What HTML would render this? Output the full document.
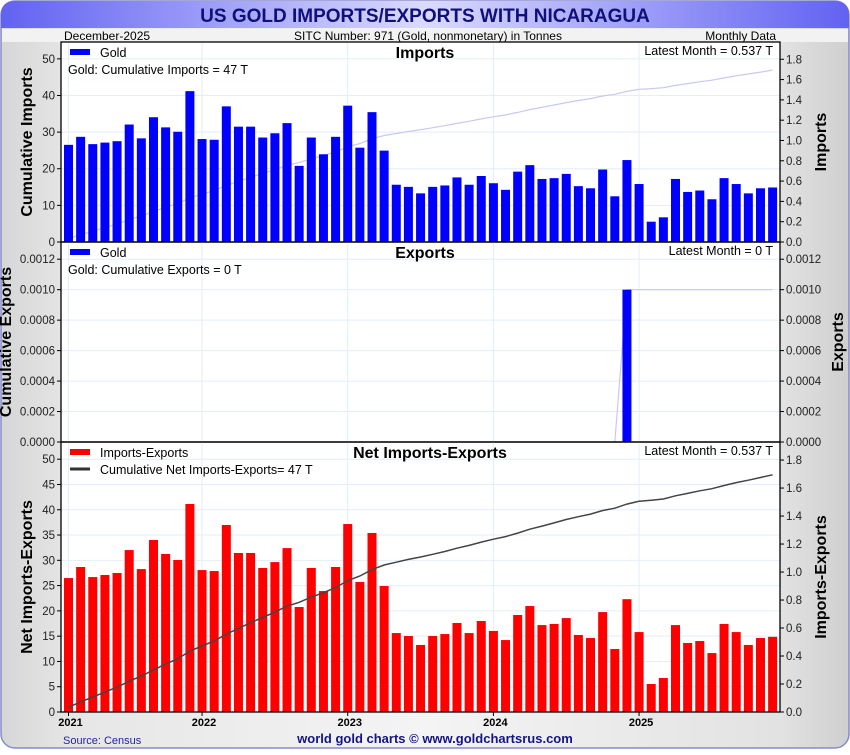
<!DOCTYPE html>
<html><head><meta charset="utf-8"><style>
body{margin:0;background:#fff;font-family:"Liberation Sans",sans-serif}
svg text{font-family:"Liberation Sans",sans-serif}
</style></head><body>
<svg id="c" width="850" height="750" viewBox="0 0 850 750" xmlns="http://www.w3.org/2000/svg">
<defs>
<linearGradient id="tg" x1="0" x2="1"><stop offset="0" stop-color="#6262f2"/><stop offset="0.5" stop-color="#dadaff"/><stop offset="1" stop-color="#6262f2"/></linearGradient>
<linearGradient id="sg" x1="0" x2="1"><stop offset="0" stop-color="#d6d6d6"/><stop offset="0.08" stop-color="#e6e6e6"/><stop offset="0.5" stop-color="#f4f4f4"/><stop offset="0.92" stop-color="#e2e2e2"/><stop offset="1" stop-color="#cfcfcf"/></linearGradient>
</defs>
<rect x="0" y="0" width="850" height="750" fill="#fff"/>
<rect x="1" y="1" width="848" height="747" rx="14" fill="url(#sg)" stroke="#8888cc" stroke-width="1.5"/>
<path d="M1,28 L1,15 Q1,1 15,1 L835,1 Q849,1 849,15 L849,28 Z" fill="url(#tg)"/>
<text x="425" y="22" text-anchor="middle" font-size="19" font-weight="bold" fill="#10107a">US GOLD IMPORTS/EXPORTS WITH NICARAGUA</text>
<rect x="2" y="29" width="846" height="13" fill="#f2f2f2"/>
<text x="64" y="40" font-size="12" fill="#000">December-2025</text>
<text x="428" y="40" text-anchor="middle" font-size="12" fill="#000">SITC Number: 971 (Gold, nonmonetary) in Tonnes</text>
<text x="776" y="40" text-anchor="end" font-size="12" fill="#000">Monthly Data</text>
<rect x="61" y="42" width="719" height="670" fill="#fff"/>
<g id="plot"></g>
<text x="63" y="744" font-size="11" fill="#2222aa">Source: Census</text>
<text x="435" y="743" text-anchor="middle" font-size="13" font-weight="bold" fill="#14148a">world gold charts © www.goldchartsrus.com</text>
</svg>
<script>
const imports = [0.957,1.036,0.964,0.979,0.993,1.157,1.021,1.229,1.129,1.086,1.486,1.014,1.007,1.336,1.136,1.136,1.029,1.071,1.171,0.75,1.029,0.864,1.036,1.343,0.929,1.279,0.9,0.564,0.543,0.479,0.543,0.557,0.636,0.564,0.65,0.579,0.514,0.693,0.757,0.621,0.629,0.671,0.55,0.529,0.714,0.45,0.807,0.571,0.2,0.243,0.621,0.493,0.507,0.421,0.629,0.571,0.479,0.529,0.537];
const exportsArr = [0,0,0,0,0,0,0,0,0,0,0,0,0,0,0,0,0,0,0,0,0,0,0,0,0,0,0,0,0,0,0,0,0,0,0,0,0,0,0,0,0,0,0,0,0,0,0.001,0,0,0,0,0,0,0,0,0,0,0,0];
const yearLabels = ["2021","2022","2023","2024","2025"];
const yearIdx = [0,11,23,35,47];
const impLeftTicks = [0,10,20,30,40,50];
const impRightTicks = [0,0.2,0.4,0.6,0.8,1.0,1.2,1.4,1.6,1.8];
const expTicks = [0,0.0002,0.0004,0.0006,0.0008,0.0010,0.0012];
const netLeftTicks = [0,5,10,15,20,25,30,35,40,45,50];
const netRightTicks = [0,0.2,0.4,0.6,0.8,1.0,1.2,1.4,1.6,1.8];

const NS="http://www.w3.org/2000/svg";
const g=document.getElementById('plot');
function el(t,a,txt){const e=document.createElementNS(NS,t);for(const k in a)e.setAttribute(k,a[k]);if(txt!==undefined)e.textContent=txt;g.appendChild(e);return e;}
const L=61,R=780,STEP=12.14,BW=9;
const xb=i=>64+i*STEP;
const xc=i=>xb(i)+BW/2;

function panel(o){
  const {top,bot,name,vals,rMax,lMax,lTicks,rTicks,lFmt,rFmt,color,lineColor,leftTitle,rightTitle,titleX,rtX,panelTitle,legend,cumText,latest}=o;
  const yL=v=>bot-(v/lMax)*(bot-top);
  const yR=v=>bot-(v/rMax)*(bot-top);
  lTicks.forEach(t=>{const y=yL(t);
    let ln=el('line',{x1:L,x2:R,y1:y,y2:y,stroke:'#e2eef8','stroke-width':1});
    
    el('line',{x1:L-4,x2:L,y1:y,y2:y,stroke:'#000'});
    let tx=el('text',{x:L-6,y:y+4,'text-anchor':'end','font-size':11.5,fill:'#222'},lFmt(t));
    
  });
  yearIdx.forEach(i=>{const ln=el('line',{x1:xc(i),x2:xc(i),y1:top,y2:bot,stroke:'#e2eef8'});
    });
  rTicks.forEach(t=>{const y=yR(t);
    el('line',{x1:R,x2:R+4,y1:y,y2:y,stroke:'#000'});
    let tx=el('text',{x:R+6,y:y+4,'font-size':11.5,fill:'#222'},rFmt(t));
    
  });
  let cum=0;const pts=vals.map((v,i)=>{cum+=v;return xc(i).toFixed(1)+','+yL(cum).toFixed(1);});
  const drawLine=()=>{const pl=el('polyline',{points:pts.join(' '),fill:'none',stroke:lineColor,'stroke-width':o.lineOnTop?1.5:1.2});
    };
  if(!o.lineOnTop) drawLine();
  vals.forEach((v,i)=>{if(v<=0)return;const y=yR(v);
    const b=el('rect',{x:xb(i),y:y,width:BW,height:bot-y,fill:color});
    });
  if(o.lineOnTop) drawLine();
  el('rect',{x:L,y:top,width:R-L,height:bot-top,fill:'none',stroke:'#000','stroke-width':1.3});
  let t1=el('text',{x:titleX,y:(top+bot)/2,'font-size':16,'font-weight':'bold','text-anchor':'middle',transform:`rotate(-90 ${titleX} ${(top+bot)/2})`},leftTitle);
  
  let t2=el('text',{x:rtX,y:(top+bot)/2,'font-size':16,'font-weight':'bold','text-anchor':'middle',transform:`rotate(-90 ${rtX} ${(top+bot)/2})`},rightTitle);
  
  let pt=el('text',{x:o.ptX||425,y:top+16,'font-size':16,'font-weight':'bold','text-anchor':'middle'},panelTitle);
  
  el('rect',{x:70,y:top+7,width:20,height:6,fill:color});
  let lg=el('text',{x:100,y:top+15,'font-size':12.5},legend);
  
  if(o.cumLegendLine){el('line',{x1:70,x2:90,y1:top+27,y2:top+27,stroke:'#333','stroke-width':3});}
  let ct=el('text',{x:o.cumX||68,y:top+32,'font-size':12.5},cumText);
  
  let lt=el('text',{x:773,y:top+13,'font-size':12.5,'text-anchor':'end'},latest);
  
}
const f0=v=>String(v), f1=v=>v.toFixed(1), f4=v=>v.toFixed(4);
panel({top:42,bot:242,name:'imports',vals:imports,rMax:1.97,lMax:54.6,lTicks:impLeftTicks,rTicks:impRightTicks,lFmt:f0,rFmt:f1,color:'#0000ff',lineColor:'#c8c8f4',leftTitle:'Cumulative Imports',rightTitle:'Imports',titleX:32,rtX:826,panelTitle:'Imports',legend:'Gold',cumText:'Gold: Cumulative Imports = 47 T',latest:'Latest Month = 0.537 T'});
panel({top:242,bot:442,name:'exports',vals:exportsArr,rMax:0.001313,lMax:0.001313,lTicks:expTicks,rTicks:expTicks,lFmt:f4,rFmt:f4,color:'#0000ff',lineColor:'#c8c8f4',leftTitle:'Cumulative Exports',rightTitle:'Exports',titleX:11,rtX:843,panelTitle:'Exports',legend:'Gold',cumText:'Gold: Cumulative Exports = 0 T',latest:'Latest Month = 0 T'});
panel({top:442,bot:712,name:'net',vals:imports.map((v,i)=>v-exportsArr[i]),rMax:1.929,lMax:53.4,lTicks:netLeftTicks,rTicks:netRightTicks,lFmt:f0,rFmt:f1,color:'#ff0000',lineColor:'#444',lineOnTop:true,leftTitle:'Net Imports-Exports',rightTitle:'Imports-Exports',titleX:32,rtX:826,panelTitle:'Net Imports-Exports',ptX:430,legend:'Imports-Exports',cumText:'Cumulative Net Imports-Exports= 47 T',cumX:100,cumLegendLine:true,latest:'Latest Month = 0.537 T'});
yearIdx.forEach((i,k)=>{el('line',{x1:xc(i),x2:xc(i),y1:712,y2:716,stroke:'#000'});
  const t=el('text',{x:xc(i)+2,y:726,'font-size':11,'font-weight':'bold','text-anchor':'middle'},yearLabels[k]);
  });
</script>
</body></html>
